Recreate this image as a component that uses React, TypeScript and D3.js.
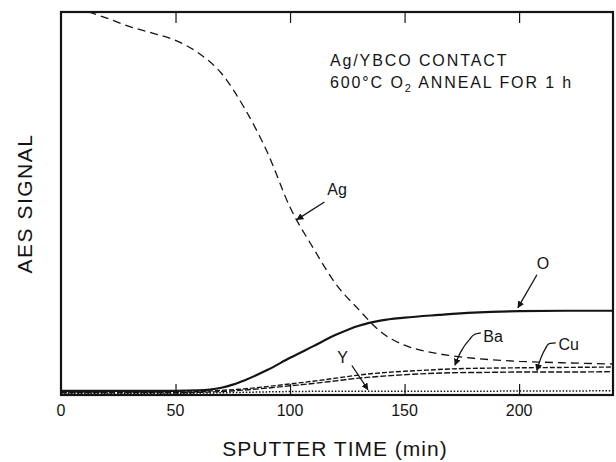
import React, { useEffect, useRef } from 'react';
import * as d3 from 'd3';

// sputter time (min) and AES signal (normalised)
const agTime = [12, 20, 30, 40, 50, 60, 70, 80, 90, 100, 110, 120, 130, 140, 150, 160, 170, 180, 200, 220, 241];
const agSignal = [1.0, 0.984, 0.962, 0.945, 0.926, 0.893, 0.84, 0.75, 0.635, 0.49, 0.385, 0.29, 0.223, 0.163, 0.13, 0.113, 0.103, 0.096, 0.088, 0.084, 0.081];

const oTime = [0, 50, 60, 65, 70, 75, 80, 90, 100, 110, 120, 130, 140, 150, 165, 180, 200, 220, 241];
const oSignal = [0.011, 0.011, 0.012, 0.014, 0.019, 0.027, 0.038, 0.065, 0.097, 0.127, 0.157, 0.181, 0.195, 0.202, 0.209, 0.215, 0.219, 0.22, 0.22];

const baTime = [0, 55, 60, 70, 80, 90, 100, 110, 120, 130, 140, 150, 160, 170, 185, 200, 220, 241];
const baSignal = [0.008, 0.008, 0.009, 0.012, 0.016, 0.022, 0.029, 0.036, 0.044, 0.052, 0.058, 0.062, 0.065, 0.068, 0.07, 0.071, 0.072, 0.073];

const cuTime = [0, 55, 60, 70, 80, 90, 100, 110, 120, 130, 140, 150, 160, 170, 185, 200, 220, 241];
const cuSignal = [0.006, 0.006, 0.007, 0.009, 0.013, 0.018, 0.024, 0.03, 0.037, 0.044, 0.049, 0.053, 0.056, 0.058, 0.059, 0.06, 0.06, 0.061];

const yTime = [0, 60, 80, 100, 130, 170, 241];
const ySignal = [0.004, 0.005, 0.007, 0.009, 0.01, 0.01, 0.011];

const xTicks = [0, 50, 100, 150, 200];
const xDomain = [0, 241];

const titleLines = ['Ag/YBCO CONTACT', '600°C O₂ ANNEAL FOR 1 h'];

const series = [
  { name: 'Ag', t: agTime, v: agSignal, width: 1.3, dash: '8,5' },
  { name: 'O', t: oTime, v: oSignal, width: 2.2, dash: null },
  { name: 'Ba', t: baTime, v: baSignal, width: 1.4, dash: '5,2' },
  { name: 'Cu', t: cuTime, v: cuSignal, width: 1.4, dash: '6,2' },
  { name: 'Y', t: yTime, v: ySignal, width: 1.5, dash: '1.5,1.8' },
];

// label text position + leader path, all in data units
const labels = [
  { text: 'Ag', at: [120.5, 0.522], anchor: 'middle', leader: [[115, 0.504], [103, 0.458]] },
  { text: 'O', at: [210.4, 0.329], anchor: 'middle', leader: [[207.8, 0.314], [199.5, 0.228]] },
  { text: 'Ba', at: [184.4, 0.138], anchor: 'start', leader: [[183.3, 0.162], [180.5, 0.158], [178.5, 0.146], [172, 0.078]] },
  { text: 'Cu', at: [217.2, 0.117], anchor: 'start', leader: [[216, 0.136], [213, 0.134], [211.5, 0.121], [207.8, 0.064]] },
  { text: 'Y', at: [122.9, 0.084], anchor: 'middle', leader: [[127, 0.077], [134, 0.014]] },
];

const FONT = '"Liberation Sans", Arial, Helvetica, sans-serif';
const INK = '#141414';

const App: React.FC = () => {
  const ref = useRef<SVGSVGElement>(null);

  useEffect(() => {
    if (!ref.current) return;
    const svg = d3.select(ref.current);
    svg.selectAll('*').remove();

    const left = 61;
    const right = 613;
    const top = 12;
    const bottom = 395;

    const x = d3.scaleLinear().domain(xDomain).range([left, right]);
    const y = d3.scaleLinear().domain([0, 1]).range([bottom, top]);

    svg
      .append('defs')
      .append('marker')
      .attr('id', 'arrow')
      .attr('viewBox', '0 0 10 10')
      .attr('refX', 9)
      .attr('refY', 5)
      .attr('markerWidth', 7)
      .attr('markerHeight', 7)
      .attr('markerUnits', 'userSpaceOnUse')
      .attr('orient', 'auto')
      .append('path')
      .attr('d', 'M0,0 L10,5 L0,10 z')
      .attr('fill', INK);

    svg
      .append('clipPath')
      .attr('id', 'plot')
      .append('rect')
      .attr('x', left)
      .attr('y', top)
      .attr('width', right - left)
      .attr('height', bottom - top);

    // curves
    const line = d3
      .line<[number, number]>()
      .x((d) => x(d[0]))
      .y((d) => y(d[1]))
      .curve(d3.curveMonotoneX);

    const g = svg.append('g').attr('clip-path', 'url(#plot)');
    series.forEach((s) => {
      const pts = s.t.map((t, i) => [t, s.v[i]] as [number, number]);
      g.append('path')
        .attr('d', line(pts))
        .attr('fill', 'none')
        .attr('stroke', INK)
        .attr('stroke-width', s.width)
        .attr('stroke-dasharray', s.dash ?? null);
    });

    // frame
    svg
      .append('rect')
      .attr('x', left)
      .attr('y', top)
      .attr('width', right - left)
      .attr('height', bottom - top)
      .attr('fill', 'none')
      .attr('stroke', INK)
      .attr('stroke-width', 2.2);

    // inward ticks at bottom and top
    const inner = xTicks.filter((d) => d > 0);
    svg
      .append('g')
      .attr('transform', `translate(0,${bottom})`)
      .call(d3.axisBottom(x).tickValues(inner).tickSize(-11).tickFormat(() => ''))
      .call((a) => a.select('.domain').remove())
      .selectAll('line')
      .attr('stroke', INK)
      .attr('stroke-width', 1.2);
    svg
      .append('g')
      .attr('transform', `translate(0,${top})`)
      .call(d3.axisTop(x).tickValues(inner).tickSize(-11).tickFormat(() => ''))
      .call((a) => a.select('.domain').remove())
      .selectAll('line')
      .attr('stroke', INK)
      .attr('stroke-width', 1.2);

    // tick labels
    svg
      .selectAll('.tl')
      .data(xTicks)
      .enter()
      .append('text')
      .attr('x', (d) => x(d))
      .attr('y', 416)
      .attr('text-anchor', 'middle')
      .style('font-family', FONT)
      .style('font-size', '16px')
      .style('fill', INK)
      .text((d) => d);

    // axis titles
    svg
      .append('text')
      .attr('x', 335)
      .attr('y', 456)
      .attr('text-anchor', 'middle')
      .style('font-family', FONT)
      .style('font-size', '21px')
      .style('letter-spacing', '1px')
      .style('fill', INK)
      .text('SPUTTER TIME (min)');

    svg
      .append('text')
      .attr('transform', `translate(32,${(top + bottom) / 2}) rotate(-90)`)
      .attr('text-anchor', 'middle')
      .style('font-family', FONT)
      .style('font-size', '21px')
      .style('letter-spacing', '1.5px')
      .style('fill', INK)
      .text('AES SIGNAL');

    // annotation
    const note = svg
      .append('text')
      .style('font-family', FONT)
      .style('font-size', '16px')
      .style('letter-spacing', '1.9px')
      .style('fill', INK);
    note.append('tspan').attr('x', x(117.4)).attr('y', y(0.859)).text(titleLines[0]);
    const l2 = note.append('tspan').attr('x', x(117.4)).attr('y', y(0.802));
    const [pre, post] = titleLines[1].split('₂');
    l2.append('tspan').text(pre);
    l2.append('tspan').attr('dy', 4).style('font-size', '11px').text('2');
    l2.append('tspan').attr('dy', -4).text(post);

    // series labels and leaders
    const leader = d3
      .line<number[]>()
      .x((d) => x(d[0]))
      .y((d) => y(d[1]))
      .curve(d3.curveMonotoneY);
    labels.forEach((lb) => {
      svg
        .append('text')
        .attr('x', x(lb.at[0]))
        .attr('y', y(lb.at[1]))
        .attr('text-anchor', lb.anchor)
        .style('font-family', FONT)
        .style('font-size', '16px')
        .style('fill', INK)
        .text(lb.text);
      svg
        .append('path')
        .attr('d', leader(lb.leader))
        .attr('fill', 'none')
        .attr('stroke', INK)
        .attr('stroke-width', 1.3)
        .attr('marker-end', 'url(#arrow)');
    });
  }, []);

  return (
    <svg
      ref={ref}
      width={616}
      height={462}
      style={{ position: 'absolute', left: 0, top: 0, background: '#fff' }}
    />
  );
};

export default App;
